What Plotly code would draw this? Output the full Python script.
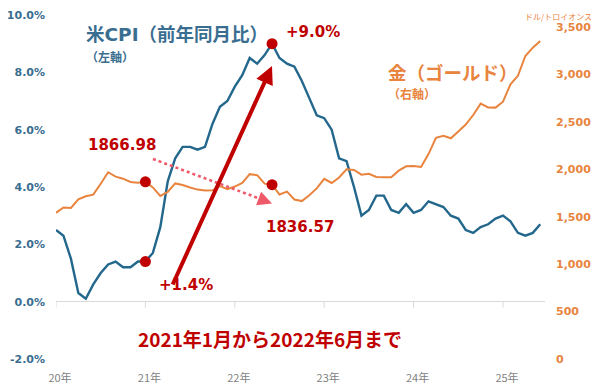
import plotly.graph_objects as go

# ---- data (monthly, Jan 2020 - Jun 2025) ----
cpi = [2.5, 2.3, 1.5, 0.3, 0.1, 0.6, 1.0, 1.3, 1.4, 1.2, 1.2, 1.4,
       1.4, 1.7, 2.6, 4.2, 5.0, 5.4, 5.4, 5.3, 5.4, 6.2, 6.8, 7.0,
       7.5, 7.9, 8.5, 8.3, 8.6, 9.0, 8.5, 8.3, 8.2, 7.7, 7.1, 6.5,
       6.4, 6.0, 5.0, 4.9, 4.0, 3.0, 3.2, 3.7, 3.7, 3.2, 3.1, 3.4,
       3.1, 3.2, 3.5, 3.4, 3.3, 3.0, 2.9, 2.5, 2.4, 2.6, 2.7, 2.9,
       3.0, 2.8, 2.4, 2.3, 2.4, 2.7]
gold = [1540, 1597, 1591, 1683, 1715, 1732, 1847, 1968, 1922, 1900, 1866, 1858,
        1866.98, 1808, 1718, 1760, 1850, 1834, 1807, 1785, 1776, 1777, 1821, 1790,
        1817, 1856, 1948, 1937, 1848, 1836.57, 1733, 1764, 1681, 1664, 1726, 1798,
        1898, 1855, 1913, 2000, 1992, 1943, 1951, 1918, 1916, 1916, 1985, 2030,
        2034, 2024, 2159, 2331, 2351, 2326, 2398, 2470, 2571, 2691, 2651, 2649,
        2711, 2895, 2984, 3193, 3281, 3352]
months = list(range(len(cpi)))
year_ticks = [0, 12, 24, 36, 48, 60]
year_labels = ["20年", "21年", "22年", "23年", "24年", "25年"]
cpi_ticks = [-2, 0, 2, 4, 6, 8, 10]
cpi_tick_labels = [f"{v:.1f}%" for v in cpi_ticks]
gold_ticks = [0, 500, 1000, 1500, 2000, 2500, 3000, 3500]
gold_tick_labels = [f"{v:,}" for v in gold_ticks]
hl = [12, 29]  # Jan 2021, Jun 2022

BLUE = "#23688C"
BLUE_T = "#3A6E90"
ORANGE = "#E8843E"
RED = "#C00000"
PINK = "#EE5A6A"
JP = "Noto Sans CJK JP"
NUM = "DejaVu Sans, Noto Sans CJK JP"

W, H = 600, 391
OFF = 8  # page body margin
# plot area in screen pixels
SX0, SX1, SY0, SY1 = 56, 545, 15, 359
L, T = SX0 - OFF, SY0 - OFF
R, B = W - (SX1 - OFF), H - (SY1 - OFF)
PW, PH = SX1 - SX0, SY1 - SY0


def px(x):
    return (x - SX0) / PW


def py(y):
    return (SY1 - y) / PH


fig = go.Figure()
fig.add_trace(go.Scatter(x=months, y=gold, yaxis="y2", mode="lines",
                         line=dict(color=ORANGE, width=2), hoverinfo="skip"))
fig.add_trace(go.Scatter(x=months, y=cpi, mode="lines",
                         line=dict(color=BLUE, width=2.4), hoverinfo="skip"))
fig.add_trace(go.Scatter(x=hl, y=[cpi[i] for i in hl], mode="markers",
                         marker=dict(color=RED, size=11), hoverinfo="skip"))
fig.add_trace(go.Scatter(x=hl, y=[gold[i] for i in hl], yaxis="y2", mode="markers",
                         marker=dict(color=RED, size=11), hoverinfo="skip"))

shapes = []
for t in year_ticks:
    shapes.append(dict(type="line", xref="x", yref="y", ysizemode="pixel", yanchor=0,
                       x0=t, x1=t, y0=0, y1=-6, line=dict(color="#D9D9D9", width=1)))
# dotted arrow line
shapes.append(dict(type="line", xref="paper", yref="paper",
                   x0=px(153), y0=py(159), x1=px(262), y1=py(199.5),
                   line=dict(color=PINK, width=2.6, dash="dot")))

ann = []


def txt(text, x, y, size, color, xanchor="center", family=JP):
    ann.append(dict(text=text, x=px(x), y=py(y), xref="paper", yref="paper",
                    xanchor=xanchor, yanchor="middle", showarrow=False,
                    font=dict(family=family, size=size, color=color, weight="bold")))


txt("米CPI（前年同月比）", 84, 35, 18.5, BLUE_T, "left", NUM)
txt("（左軸）", 84, 56, 12, BLUE_T, "left")
txt("+9.0%", 284, 32, 15, RED, "left", NUM)
txt("金（ゴールド）", 386, 72, 18.5, ORANGE, "left")
txt("（右軸）", 386, 94, 12, ORANGE, "left")
txt("1866.98", 122, 145, 15, RED, "center", NUM)
txt("1836.57", 300, 227, 15, RED, "center", NUM)
txt("+1.4%", 186, 285, 15, RED, "center", NUM)
txt("2021年1月から2022年6月まで", 270, 338, 19, RED, "center")
ann.append(dict(text="ドル/トロイオンス", x=px(594), y=py(8.5), xref="paper", yref="paper",
                xanchor="right", yanchor="top", showarrow=False,
                font=dict(family=JP, size=8, color=ORANGE)))
# solid arrow
ann.append(dict(x=px(272), y=py(66), xref="paper", yref="paper", text="",
                showarrow=True, ax=172 - 272, ay=286 - 66, arrowcolor=RED,
                arrowwidth=4, arrowhead=2, arrowsize=0.9, standoff=0))
# dotted arrow head
ann.append(dict(x=px(272), y=py(203.5), xref="paper", yref="paper", text="",
                showarrow=True, ax=-12, ay=-4.5, arrowcolor=PINK,
                arrowwidth=2.6, arrowhead=2, arrowsize=1.1, standoff=0))

fig.update_layout(
    width=W, height=H, margin=dict(l=L, r=R, t=T, b=B, autoexpand=False),
    paper_bgcolor="white", plot_bgcolor="white", showlegend=False,
    shapes=shapes, annotations=ann,
    xaxis=dict(range=[0, PW / 7.45], tickvals=year_ticks, ticktext=year_labels,
               showgrid=False, zeroline=False, showline=False, ticks="",
               automargin=False,
               tickfont=dict(family=JP, size=11, color="#7F7F7F"),
               ticklabelshift=4, ticklabelstandoff=11),
    yaxis=dict(range=[-2, 10], tickvals=cpi_ticks, ticktext=cpi_tick_labels,
               showgrid=False, zeroline=True, zerolinecolor="#D9D9D9", zerolinewidth=1,
               showline=False, ticks="", automargin=False,
               tickfont=dict(family="DejaVu Sans", size=11, color=BLUE_T, weight="bold"),
               ticklabelstandoff=10),
    yaxis2=dict(range=[0, 3625], tickvals=gold_ticks, ticktext=gold_tick_labels,
                overlaying="y", side="right", showgrid=False, zeroline=False,
                showline=False, ticks="", automargin=False,
                tickfont=dict(family="DejaVu Sans", size=11, color=ORANGE, weight="bold"),
                ticklabelstandoff=10),
)

fig.write_html("out.html")
